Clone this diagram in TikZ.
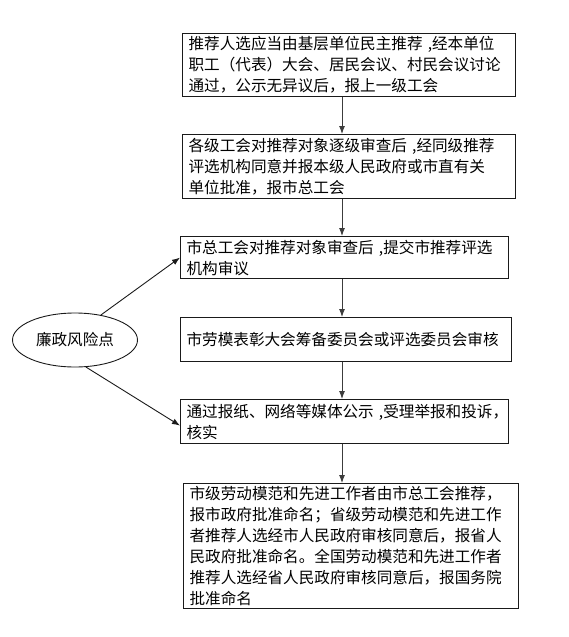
\documentclass[tikz,border=0pt]{standalone}
\usepackage{fontspec}
\setmainfont{Noto Sans CJK SC}
\usetikzlibrary{positioning, shapes.geometric, arrows.meta}
\definecolor{lineblack}{HTML}{1A1A1A}
\definecolor{flowgray}{HTML}{3C3C3C}
\tikzset{
  stepbox/.style={draw=lineblack, line width=1.2pt, anchor=north west, align=left,
    inner xsep=6pt, inner ysep=0pt, font=\fontsize{15.6}{21}\selectfont},
  flow/.style={-{Latex[length=8pt,width=6pt]}, draw=flowgray, line width=0.9pt},
  riskflow/.style={-{Latex[length=8pt,width=6pt]}, draw=lineblack, line width=0.9pt}
}

\begin{document}
\begin{tikzpicture}[x=1pt, y=-1pt]
    \useasboundingbox (0,0) rectangle (569,637);
    \coordinate (axis) at (342,0);
    % flow steps
    \node[stepbox, text width=321pt, minimum height=63pt] (nominate) at (182,33)
      {推荐人选应当由基层单位民主推荐~,经本单位\\职工（代表）大会、居民会议、村民会议讨论\\通过，公示无异议后，报上一级工会};
    \node[stepbox, text width=321pt, minimum height=64pt] (review) at (182,134)
      {各级工会对推荐对象逐级审查后~,经同级推荐\\评选机构同意并报本级人民政府或市直有关\\单位批准，报市总工会};
    \node[stepbox, text width=316pt, minimum height=42pt] (cityunion) at (180,236)
      {市总工会对推荐对象审查后~,提交市推荐评选\\机构审议};
    \node[stepbox, text width=319pt, minimum height=44pt] (committee) at (180,317)
      {市劳模表彰大会筹备委员会或评选委员会审核};
    \node[stepbox, text width=316pt, minimum height=44pt] (publicity) at (180,399)
      {通过报纸、网络等媒体公示~,受理举报和投诉，\\核实};
    \node[stepbox, text width=323pt, minimum height=125pt] (approval) at (183,483)
      {市级劳动模范和先进工作者由市总工会推荐，\\报市政府批准命名；省级劳动模范和先进工作\\者推荐人选经市人民政府审核同意后，报省人\\民政府批准命名。全国劳动模范和先进工作者\\推荐人选经省人民政府审核同意后，报国务院\\批准命名};
    % risk point
    \node[ellipse, draw=lineblack, line width=0.9pt, minimum width=125pt, minimum height=54pt,
      inner sep=0pt, font=\fontsize{15.6}{18}\selectfont] (risk) at (75,340) {廉政风险点};

    \draw[flow] (nominate.south -| axis) -- (review.north -| axis);
    \draw[flow] (review.south -| axis) -- (cityunion.north -| axis);
    \draw[flow] (cityunion.south -| axis) -- (committee.north -| axis);
    \draw[flow] (committee.south -| axis) -- (publicity.north -| axis);
    \draw[flow] (publicity.south -| axis) -- (approval.north -| axis);

    \draw[riskflow] (risk.44) -- (cityunion.west);
    \draw[riskflow] (risk.-68) -- ([yshift=-4pt]publicity.west);
  \end{tikzpicture}
\end{document}
